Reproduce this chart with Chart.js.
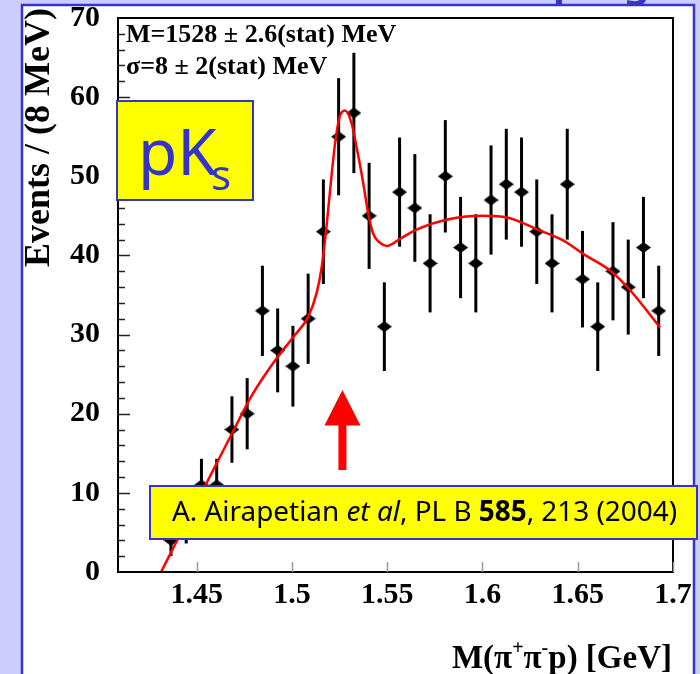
<!DOCTYPE html>
<html>
<head>
<meta charset="utf-8">
<script src="https://cdn.jsdelivr.net/npm/chart.js@4.4.1/dist/chart.umd.min.js"></script>
<style>
    html, body {margin: 0; padding: 0; background: #ccccff;}
    canvas {display: block;}
</style>
</head>
<body>
<canvas id="massPlot" width="700" height="674"></canvas>
<script>
// invariant mass bins (GeV), 8 MeV wide
const binMass = [1.4365, 1.4445, 1.4525, 1.4605, 1.4685, 1.4765, 1.4845, 1.4925, 1.5005, 1.5085, 1.5165,
                 1.5245, 1.5325, 1.5405, 1.5485, 1.5565, 1.5645, 1.5725, 1.5805, 1.5885, 1.5965, 1.6045,
                 1.6125, 1.6205, 1.6285, 1.6365, 1.6445, 1.6525, 1.6605, 1.6685, 1.6765, 1.6845, 1.6925];
const binCounts = [4, 6, 11, 11, 18, 20, 33, 28, 26, 32, 43,
                   55, 58, 45, 31, 48, 46, 39, 50, 41, 39, 47,
                   49, 48, 43, 39, 49, 37, 31, 38, 36, 41, 33];
const binErrors = [2.0, 2.4, 3.3, 3.3, 4.2, 4.5, 5.7, 5.3, 5.1, 5.7, 6.6,
                   7.4, 7.6, 6.7, 5.6, 6.9, 6.8, 6.2, 7.1, 6.4, 6.2, 6.9,
                   7.0, 6.9, 6.6, 6.2, 7.0, 6.1, 5.6, 6.2, 6.0, 6.4, 5.7];

// gaussian + background fit
const fitMass = [1.4313, 1.4400, 1.4500, 1.4600, 1.4700, 1.4780, 1.4850, 1.4920, 1.5007, 1.5086, 1.5130,
                 1.5156, 1.5179, 1.5200, 1.5226, 1.5249, 1.5279, 1.5314, 1.5340, 1.5375, 1.5401, 1.5427,
                 1.5462, 1.5498, 1.5567, 1.5657, 1.5830, 1.6003, 1.6129, 1.6286, 1.6423, 1.6528, 1.6670,
                 1.6775, 1.6932];
const fitEvents = [0.0, 4.1, 8.8, 13.5, 18.2, 21.9, 24.6, 27.0, 29.7, 32.3, 35.3,
                   38.5, 43.1, 48.2, 54.1, 57.4, 58.3, 56.6, 53.6, 49.0, 45.2, 42.7,
                   41.6, 41.2, 42.1, 43.3, 44.6, 45.0, 44.8, 43.3, 41.9, 40.2, 38.1,
                   35.6, 30.9];

const xTicks = [1.45, 1.5, 1.55, 1.6, 1.65, 1.7];
const yTicks = [0, 10, 20, 30, 40, 50, 60, 70];

const BLUE = '#3434c8',
      serif = '"Liberation Serif", "DejaVu Serif", serif',
      sans = '"Noto Sans", "DejaVu Sans", sans-serif';

// black diamond marker, a bit wider than tall
const diamond = document.createElement('canvas');
diamond.width = 15;
diamond.height = 11;
(function () {
    const d = diamond.getContext('2d');
    d.fillStyle = '#000';
    d.beginPath();
    d.moveTo(7.5, 0); d.lineTo(15, 5.5); d.lineTo(7.5, 11); d.lineTo(0, 5.5);
    d.closePath();
    d.fill();
})();

const slideBackground = {
    id: 'slideBackground',
    beforeDraw(chart) {
        const ctx = chart.ctx;
        ctx.save();
        ctx.fillStyle = '#ccccff';
        ctx.fillRect(0, 0, chart.width, chart.height);
        ctx.fillStyle = '#ffffff';
        ctx.fillRect(22, 5, 672, 700);
        ctx.strokeStyle = BLUE;
        ctx.lineWidth = 2.5;
        ctx.strokeRect(22, 5, 672, 700);
        // tails of the slide heading above the panel
        ctx.fillStyle = BLUE;
        ctx.font = 'bold 40px ' + sans;
        ctx.textBaseline = 'alphabetic';
        ctx.fillText('p', 553, -3);
        ctx.fillText('g', 624, -3);
        ctx.restore();
    }
};

const errorBars = {
    id: 'errorBars',
    beforeDatasetsDraw(chart) {
        const {ctx, chartArea: a, scales: {x, y}} = chart;
        ctx.save();
        ctx.beginPath();
        ctx.rect(a.left, a.top, a.right - a.left, a.bottom - a.top);
        ctx.clip();
        ctx.strokeStyle = '#000';
        ctx.lineWidth = 3;
        binMass.forEach((m, i) => {
            const px = x.getPixelForValue(m);
            ctx.beginPath();
            ctx.moveTo(px, y.getPixelForValue(binCounts[i] - binErrors[i]));
            ctx.lineTo(px, y.getPixelForValue(binCounts[i] + binErrors[i]));
            ctx.stroke();
        });
        ctx.restore();
    }
};

function drawPieces(ctx, pieces, x, y) {
    pieces.forEach(p => {
        ctx.font = p.font;
        ctx.fillText(p.text, x, y + (p.dy || 0));
        x += ctx.measureText(p.text).width;
    });
    return x;
}

function piecesWidth(ctx, pieces) {
    return pieces.reduce((w, p) => { ctx.font = p.font; return w + ctx.measureText(p.text).width; }, 0);
}

const overlay = {
    id: 'overlay',
    afterDraw(chart) {
        const {ctx, chartArea: a, scales: {x, y}} = chart;
        ctx.save();

        // frame with inside ticks
        ctx.strokeStyle = '#000';
        ctx.lineWidth = 2;
        ctx.strokeRect(a.left, a.top, a.right - a.left, a.bottom - a.top);
        ctx.lineWidth = 1.5;
        ctx.strokeStyle = '#222';
        for (let v = 2; v < 70; v += 2) {
            const py = Math.round(y.getPixelForValue(v)) + 0.5,
                  len = v % 10 === 0 ? 12 : 7;
            ctx.beginPath(); ctx.moveTo(a.left, py); ctx.lineTo(a.left + len, py); ctx.stroke();
        }
        ctx.strokeStyle = '#999';
        xTicks.forEach(v => {
            const px = Math.round(x.getPixelForValue(v)) + 0.5;
            ctx.beginPath(); ctx.moveTo(px, a.bottom); ctx.lineTo(px, a.bottom - 10); ctx.stroke();
        });

        // fit results
        ctx.fillStyle = '#000';
        ctx.textBaseline = 'alphabetic';
        ctx.font = 'bold 26px ' + serif;
        ctx.fillText('M=1528 \u00b1 2.6(stat) MeV', 126, 42);
        ctx.fillText('\u03c3=8 \u00b1 2(stat) MeV', 126, 74);

        // pKs label
        ctx.fillStyle = '#ffff00';
        ctx.fillRect(117, 101, 136, 99);
        ctx.strokeStyle = BLUE;
        ctx.lineWidth = 2;
        ctx.strokeRect(117, 101, 136, 99);
        ctx.fillStyle = BLUE;
        ctx.font = '64px ' + sans;
        ctx.fillText('pK', 138, 175);
        ctx.font = '42px ' + sans;
        ctx.fillText('s', 211, 190);

        // reference
        ctx.fillStyle = '#ffff00';
        ctx.fillRect(150, 486, 547, 53);
        ctx.strokeStyle = BLUE;
        ctx.strokeRect(150, 486, 547, 53);
        ctx.fillStyle = '#000';
        const ref = [
            {text: 'A. Airapetian ', font: '22px ' + sans},
            {text: 'et al', font: 'italic 22px ' + sans},
            {text: ', PL B ', font: '22px ' + sans},
            {text: '585', font: 'bold 22px ' + sans},
            {text: ', 213 (2004)', font: '22px ' + sans}
        ];
        const k = 506 / piecesWidth(ctx, ref);
        ref.forEach(p => { p.font = p.font.replace('22px', (22 * k).toFixed(1) + 'px'); });
        drawPieces(ctx, ref, 172, 521);

        // arrow at the peak position
        const ax = x.getPixelForValue(1.5265),
              tip = y.getPixelForValue(23),
              base = y.getPixelForValue(18.5),
              tail = y.getPixelForValue(12.9);
        ctx.fillStyle = '#ff0000';
        ctx.beginPath();
        ctx.moveTo(ax, tip); ctx.lineTo(ax + 18, base); ctx.lineTo(ax + 4, base);
        ctx.lineTo(ax + 4, tail); ctx.lineTo(ax - 4, tail); ctx.lineTo(ax - 4, base);
        ctx.lineTo(ax - 18, base);
        ctx.closePath();
        ctx.fill();

        // axis titles
        ctx.fillStyle = '#000';
        const big = 'bold 33px ' + serif,
              sup = 'bold 20px ' + serif;
        const xTitle = [
            {text: 'M(\u03c0', font: big},
            {text: '+', font: sup, dy: -14},
            {text: '\u03c0', font: big},
            {text: '-', font: sup, dy: -14},
            {text: 'p) [GeV]', font: big}
        ];
        drawPieces(ctx, xTitle, 672 - piecesWidth(ctx, xTitle), 668);

        ctx.translate(49, 8);
        ctx.rotate(-Math.PI / 2);
        ctx.textAlign = 'right';
        ctx.font = 'bold 36px ' + serif;
        ctx.fillText('Events / (8 MeV)', 0, 0);
        ctx.restore();
    }
};

new Chart(document.getElementById('massPlot'), {
    type: 'scatter',
    data: {
        datasets: [{
            label: 'fit',
            data: fitMass.map((m, i) => ({x: m, y: fitEvents[i]})),
            showLine: true,
            borderColor: '#ff0000',
            borderWidth: 2.5,
            pointRadius: 0,
            cubicInterpolationMode: 'monotone',
            order: 0
        }, {
            label: 'events',
            data: binMass.map((m, i) => ({x: m, y: binCounts[i]})),
            pointStyle: diamond,
            pointRadius: 6,
            order: 1
        }]
    },
    options: {
        responsive: false,
        animation: false,
        events: [],
        layout: {padding: {top: 0, right: 27, left: 0, bottom: 0}},
        plugins: {legend: {display: false}, tooltip: {enabled: false}},
        scales: {
            x: {
                type: 'linear',
                min: 1.4087,
                max: 1.7,
                grid: {display: false, drawTicks: false},
                border: {display: false},
                afterBuildTicks: s => { s.ticks = xTicks.map(v => ({value: v})); },
                afterFit: s => { s.height = 102; },
                ticks: {
                    padding: 5,
                    color: '#000',
                    autoSkip: false,
                    maxRotation: 0,
                    font: {family: '"Liberation Serif", serif', size: 30, weight: 'bold'},
                    callback: v => String(v)
                }
            },
            y: {
                min: 0,
                max: 70,
                grid: {display: false, drawTicks: false},
                border: {display: false},
                afterBuildTicks: s => { s.ticks = yTicks.map(v => ({value: v})); },
                // plot top sits 18px below the canvas edge
                afterFit: s => { s.width = 118; s.paddingTop = 18; s.paddingBottom = 0; },
                ticks: {
                    padding: 18,
                    color: '#000',
                    font: {family: '"Liberation Serif", serif', size: 30, weight: 'bold'}
                }
            }
        }
    },
    plugins: [slideBackground, errorBars, overlay]
});
</script>
</body>
</html>
